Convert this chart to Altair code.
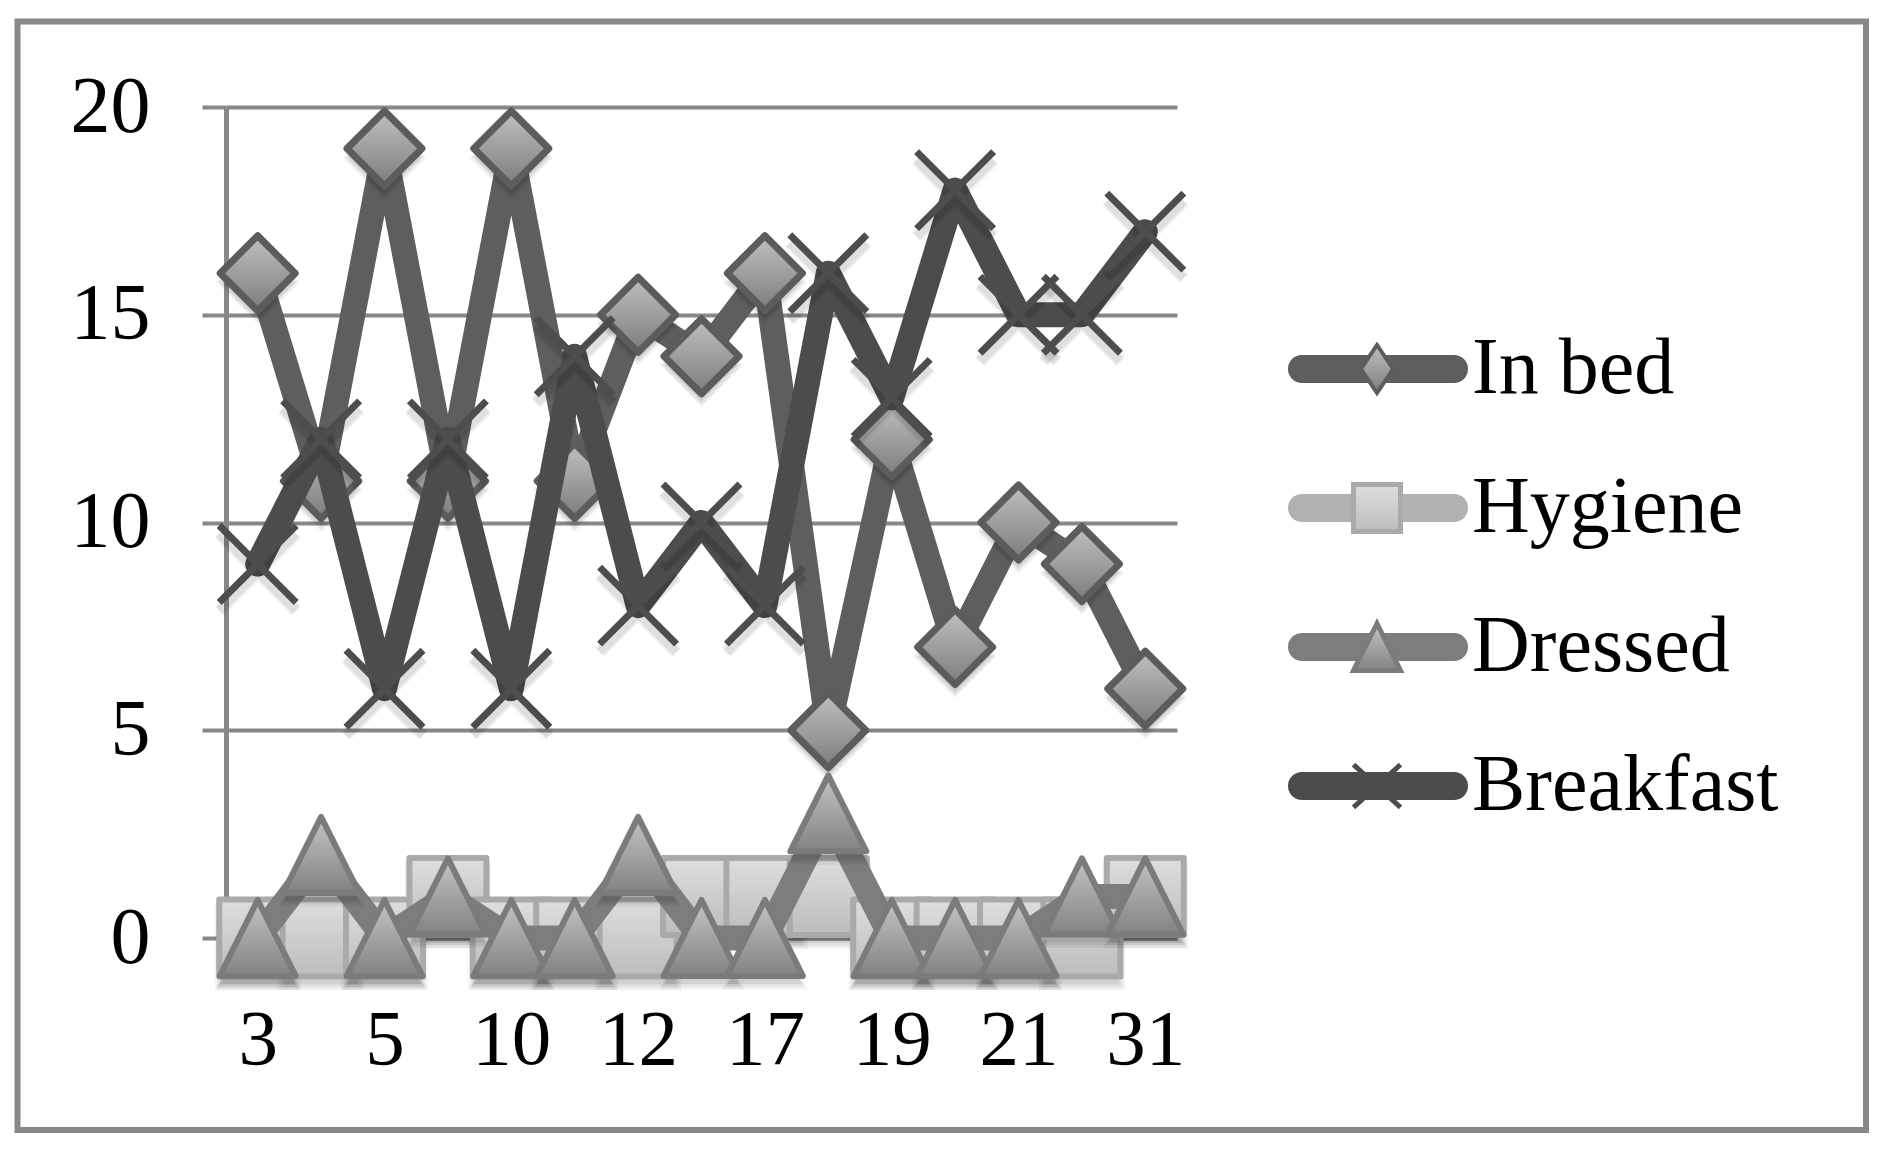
import altair as alt
import pandas as pd

# ---------------- data ----------------
categories = ["3", "4", "5", "7", "10", "11", "12", "14", "17", "18", "19", "20", "21", "24", "31"]
in_bed    = [16, 11, 19, 11, 19, 11, 15, 14, 16, 5, 12, 7, 10, 9, 6]
hygiene   = [0, 0, 0, 1, 0, 0, 0, 1, 1, 1, 0, 0, 0, 0, 1]
dressed   = [0, 2, 0, 1, 0, 0, 2, 0, 0, 3, 0, 0, 0, 1, 1]
breakfast = [9, 12, 6, 12, 6, 14, 8, 10, 8, 16, 13, 18, 15, 15, 17]
series_names = ["In bed", "Hygiene", "Dressed", "Breakfast"]
y_ticks = [0, 5, 10, 15, 20]
x_labels = categories[::2]

FONT = "Liberation Serif"
W, H = 951, 831

# ---------------- styles ----------------
DIAMOND = "M0,-1L1,0L0,1L-1,0Z"
SQUARE = "M-1,-1L1,-1L1,1L-1,1Z"
TRIANGLE = "M0,-1L1,1L-1,1Z"
XCROSS = "M-1,-1L1,1M-1,1L1,-1"
L_DIAMOND = "M0,-1L0.67,0L0,1L-0.67,0Z"
L_XCROSS = "M-1,-0.91L1,0.91M-1,0.91L1,-0.91"


def grad(top, bottom):
    return alt.LinearGradient(
        gradient="linear",
        stops=[alt.GradientStop(color=top, offset=0), alt.GradientStop(color=bottom, offset=1)],
        x1=0, x2=0, y1=0, y2=1,
    )


styles = [
    dict(values=in_bed, line="#5e5e5e", shape=DIAMOND, size=5625, fill=grad("#c0c0c0", "#7c7c7c"),
         stroke="#5c5c5c", sw=7, lshape=L_DIAMOND, lsize=2304, lsw=4),
    dict(values=hygiene, line="#b1b1b1", shape=SQUARE, size=5929, fill=grad("#dedede", "#bcbcbc"),
         stroke="#aaaaaa", sw=6, lshape=SQUARE, lsize=2209, lsw=5),
    dict(values=dressed, line="#7d7d7d", shape=TRIANGLE, size=5776, fill=grad("#c4c4c4", "#828282"),
         stroke="#7b7b7b", sw=6, lshape=TRIANGLE, lsize=2209, lsw=5),
    dict(values=breakfast, line="#4c4c4c", shape=XCROSS, size=5929, fill=None,
         stroke="#4d4d4d", sw=7, lshape=L_XCROSS, lsize=2209, lsw=5),
]

x_enc = alt.X(
    "cat:N",
    sort=categories,
    scale=alt.Scale(type="point", domain=categories, padding=0.5),
    axis=alt.Axis(
        values=x_labels, title=None, ticks=False, tickSize=0, labelPadding=101,
        labelBaseline="middle", labelAngle=0, labelFont=FONT, labelFontSize=79,
        labelColor="#000000", domain=True, domainColor="#888888", domainWidth=4,
        grid=False, labelOverlap=False,
    ),
)
y_enc = alt.Y(
    "v:Q",
    scale=alt.Scale(domain=[0, 20], nice=False, zero=True),
    axis=alt.Axis(
        values=y_ticks, title=None, ticks=True, tickSize=24, tickColor="#888888", tickWidth=4,
        labelPadding=52, labelFont=FONT, labelFontSize=80, labelColor="#000000",
        domain=True, domainColor="#888888", domainWidth=5,
        grid=True, gridColor="#888888", gridWidth=4, labelOverlap=False,
    ),
)

layers = []

# chart border (decoration)
border_df = pd.DataFrame({"k": [0]})
layers.append(
    alt.Chart(border_df).mark_rect(fill=None, stroke="#888888", strokeWidth=6).encode(
        x=alt.value(-208.5), x2=alt.value(1640), y=alt.value(-85.5), y2=alt.value(1023)
    )
)

for i, (name, st) in enumerate(zip(series_names, styles)):
    df = pd.DataFrame({"cat": categories, "v": st["values"]})
    base = alt.Chart(df).encode(x=x_enc, y=y_enc)
    layers.append(base.mark_line(color=st["line"], strokeWidth=25, strokeJoin="round", strokeCap="round"))
    if st["fill"] is not None:
        # soft drop shadow
        for k, (scale, op) in enumerate([(1.25, 0.05), (1.1, 0.06), (0.95, 0.08)]):
            layers.append(base.mark_point(shape=st["shape"], size=st["size"] * scale, filled=True,
                                          fill="#000000", opacity=op, yOffset=9, strokeWidth=0))
        layers.append(base.mark_point(shape=st["shape"], size=st["size"], filled=True, fill=st["fill"],
                                      stroke=st["stroke"], strokeWidth=st["sw"], opacity=1, strokeJoin="round"))
    else:
        for k, (w, op) in enumerate([(13, 0.05), (9, 0.07)]):
            layers.append(base.mark_point(shape=st["shape"], size=st["size"], filled=False,
                                          stroke="#000000", strokeWidth=w, opacity=op, yOffset=8,
                                          strokeCap="butt"))
        layers.append(base.mark_point(shape=st["shape"], size=st["size"], filled=False,
                                      stroke=st["stroke"], strokeWidth=st["sw"], opacity=1, strokeCap="butt"))

    # legend entry
    ly = 262 + i * 139
    ldf = pd.DataFrame({"name": [name]})
    lb = alt.Chart(ldf)
    layers.append(lb.mark_rule(color=st["line"], strokeWidth=28, strokeCap="round").encode(
        x=alt.value(1076), x2=alt.value(1228), y=alt.value(ly)))
    if st["fill"] is not None:
        layers.append(lb.mark_point(shape=st["lshape"], size=st["lsize"], filled=True, fill=st["fill"],
                                    stroke=st["stroke"], strokeWidth=st["lsw"], opacity=1).encode(
            x=alt.value(1151), y=alt.value(ly)))
    else:
        layers.append(lb.mark_point(shape=st["lshape"], size=st["lsize"], filled=False,
                                    stroke=st["stroke"], strokeWidth=st["lsw"], opacity=1, strokeCap="butt").encode(
            x=alt.value(1151), y=alt.value(ly)))
    layers.append(lb.mark_text(align="left", baseline="middle", font=FONT, fontSize=80, color="#000000").encode(
        x=alt.value(1246), y=alt.value(ly), text="name:N"))

chart = (
    alt.layer(*layers)
    .properties(
        width=W, height=H,
        padding={"left": 218, "top": 99, "right": 695, "bottom": 195},
        autosize=alt.AutoSizeParams(type="none"),
        background="#ffffff",
    )
    .configure_view(stroke=None)
)

chart.save("out.html", embed_options={"renderer": "svg", "actions": False})
